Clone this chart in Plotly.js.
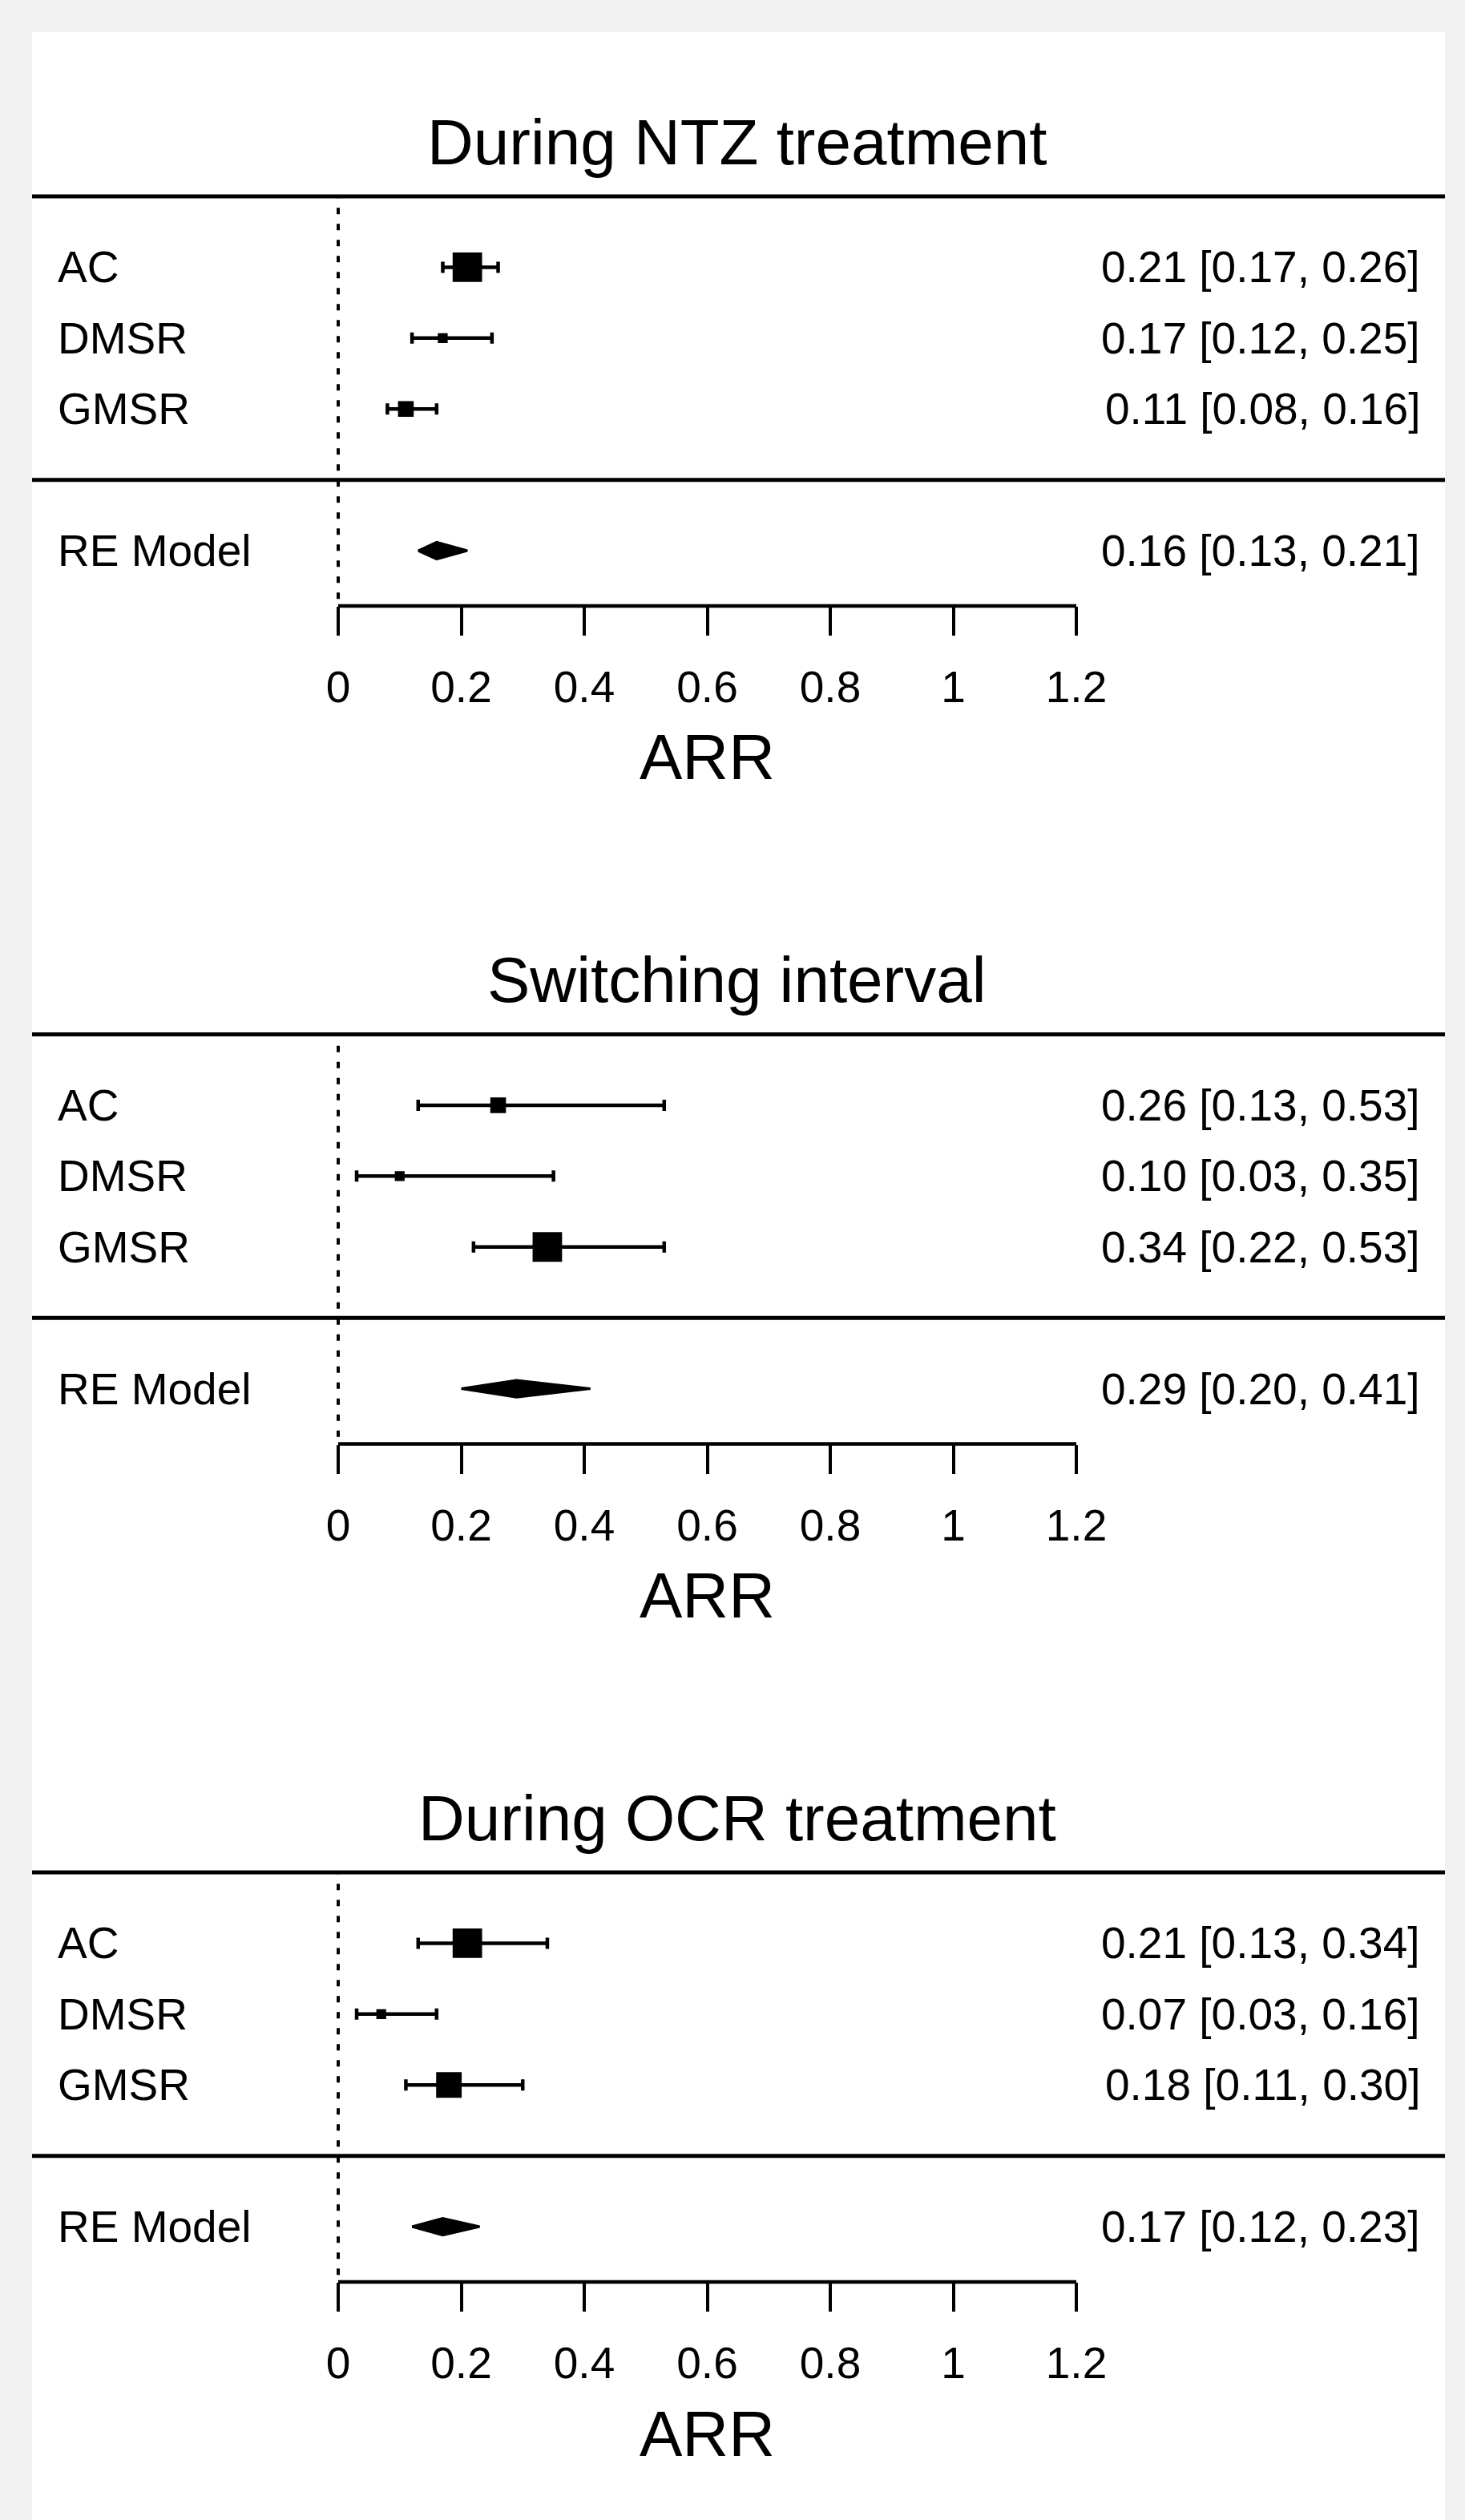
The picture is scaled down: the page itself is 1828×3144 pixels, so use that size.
<!DOCTYPE html>
<html>
<head>
<meta charset="utf-8">
<script src="https://cdn.plot.ly/plotly-3.0.1.min.js"></script>
<style>html,body{margin:0;padding:0;background:#f1f1f1;}#plot{width:1828px;height:3144px;}</style>
</head>
<body>
<div id="plot"></div>
<script>
// ---------- data ----------
const studies = ["AC", "DMSR", "GMSR"];
const panelTitles = ["During NTZ treatment", "Switching interval", "During OCR treatment"];
const summaryLabel = "RE Model";
const xLabel = "ARR";
const tickVals = [0, 0.2, 0.4, 0.6, 0.8, 1, 1.2];
const tickText = ["0", "0.2", "0.4", "0.6", "0.8", "1", "1.2"];

// During NTZ treatment
const ntzEst = [0.21, 0.17, 0.11];
const ntzLo  = [0.17, 0.12, 0.08];
const ntzHi  = [0.26, 0.25, 0.16];
const ntzWeight = [1.5, 0.5, 0.8];
const ntzRE  = [0.16, 0.13, 0.21];   // estimate, lower, upper

// Switching interval
const swEst = [0.26, 0.10, 0.34];
const swLo  = [0.13, 0.03, 0.22];
const swHi  = [0.53, 0.35, 0.53];
const swWeight = [0.8, 0.5, 1.5];
const swRE  = [0.29, 0.20, 0.41];

// During OCR treatment
const ocrEst = [0.21, 0.07, 0.18];
const ocrLo  = [0.13, 0.03, 0.11];
const ocrHi  = [0.34, 0.16, 0.30];
const ocrWeight = [1.5, 0.5, 1.3];
const ocrRE  = [0.17, 0.12, 0.23];

// ---------- layout helpers ----------
const W = 1828, H = 3144;
const FONT = "Liberation Sans, Arial, Helvetica, sans-serif";
const panels = [
  {title: panelTitles[0], est: ntzEst, lo: ntzLo, hi: ntzHi, w: ntzWeight, re: ntzRE},
  {title: panelTitles[1], est: swEst, lo: swLo, hi: swHi, w: swWeight, re: swRE},
  {title: panelTitles[2], est: ocrEst, lo: ocrLo, hi: ocrHi, w: ocrWeight, re: ocrRE}
];
const panelStep = 1045.5;
const rowPx = 88.4;                 // pixels per row unit
const studyRows = [3, 2, 1];
const sepRow = 0, reRow = -1, topRow = 4;
const axisRow = -1.78;
const yMin = -2.1, yMax = 4.4;
const xMin = -0.06, xMax = 1.26;
const xPx0 = 422, xPxPerUnit = 767.5;
const baseSize = 24.5;
const fmt = v => v.toFixed(2);
const px2paperY = p => 1 - p / H;
const px2paperX = p => p / W;

const data = [];
const shapes = [];
const annotations = [];
const layout = {
  width: W, height: H,
  margin: {l: 0, r: 0, t: 0, b: 0},
  paper_bgcolor: "#f1f1f1",
  plot_bgcolor: "rgba(0,0,0,0)",
  showlegend: false,
  font: {family: FONT, color: "#000", size: 55}
};

// white panel background
shapes.push({type: "rect", xref: "paper", yref: "paper", layer: "below",
  x0: px2paperX(40), x1: px2paperX(1803), y0: 0, y1: px2paperY(40),
  fillcolor: "#ffffff", line: {width: 0}});

panels.forEach((p, i) => {
  const sfx = i === 0 ? "" : String(i + 1);
  const xa = "x" + sfx, ya = "y" + sfx;
  const off = panelStep * i;
  const axisPx = 756 + off;
  const zeroPx = axisPx + axisRow * rowPx;   // pixel of row 0
  layout["xaxis" + sfx] = {
    domain: [px2paperX(xPx0 + xMin * xPxPerUnit), px2paperX(xPx0 + xMax * xPxPerUnit)],
    range: [xMin, xMax], anchor: "free", position: px2paperY(axisPx),
    showline: false,
    ticks: "outside", ticklen: 36, tickwidth: 4, tickcolor: "#000",
    tickvals: tickVals, ticktext: tickText,
    tickfont: {family: FONT, size: 55, color: "#000"},
    ticklabelstandoff: 17,
    showgrid: false, zeroline: false, fixedrange: true
  };
  layout["yaxis" + sfx] = {
    domain: [px2paperY(zeroPx - yMin * rowPx), px2paperY(zeroPx - yMax * rowPx)],
    range: [yMin, yMax], anchor: xa,
    visible: false, showgrid: false, zeroline: false, fixedrange: true
  };

  // x axis line spanning the tick range
  shapes.push({type: "line", xref: xa, yref: ya,
    x0: tickVals[0], x1: tickVals[tickVals.length - 1], y0: axisRow, y1: axisRow,
    line: {color: "#000", width: 4.5}});

  // axis title
  annotations.push({xref: xa, yref: "paper", x: (tickVals[0] + tickVals[tickVals.length - 1]) / 2,
    y: px2paperY(945 + off), xanchor: "center", yanchor: "middle", text: xLabel,
    showarrow: false, font: {family: FONT, size: 80, color: "#000"}});

  // reference dotted line at 0
  data.push({type: "scatter", mode: "lines", xaxis: xa, yaxis: ya,
    x: [0, 0], y: [axisRow + 0.1, topRow],
    line: {color: "#000", width: 4, dash: "8px,12px"}, hoverinfo: "skip"});

  // horizontal rules (top and separator)
  [topRow, sepRow].forEach(r => {
    shapes.push({type: "line", xref: "paper", yref: ya,
      x0: px2paperX(40), x1: px2paperX(1803), y0: r, y1: r,
      line: {color: "#000", width: 5}});
  });

  // study estimates with CIs
  data.push({type: "scatter", mode: "markers", xaxis: xa, yaxis: ya,
    x: p.est, y: studyRows,
    marker: {symbol: "square", color: "#000", opacity: 1,
      size: p.w.map(v => v * baseSize), line: {width: 0}},
    error_x: {type: "data", symmetric: false,
      array: p.est.map((e, k) => p.hi[k] - e),
      arrayminus: p.est.map((e, k) => e - p.lo[k]),
      color: "#000", thickness: 4.5, width: 7},
    cliponaxis: false, hoverinfo: "x"});

  // RE model diamond
  const dh = 0.12;
  data.push({type: "scatter", mode: "lines", xaxis: xa, yaxis: ya,
    x: [p.re[1], p.re[0], p.re[2], p.re[0], p.re[1]],
    y: [reRow, reRow + dh, reRow, reRow - dh, reRow],
    fill: "toself", fillcolor: "#000", line: {color: "#000", width: 3},
    hoverinfo: "skip"});

  // labels
  const labels = studies.concat([summaryLabel]);
  const rows = studyRows.concat([reRow]);
  const rights = p.est.map((e, k) => `${fmt(e)} [${fmt(p.lo[k])}, ${fmt(p.hi[k])}]`)
    .concat([`${fmt(p.re[0])} [${fmt(p.re[1])}, ${fmt(p.re[2])}]`]);
  labels.forEach((lab, k) => {
    annotations.push({xref: "paper", yref: ya, x: px2paperX(70), y: rows[k],
      xanchor: "left", yanchor: "middle", text: lab, showarrow: false,
      font: {family: FONT, size: 55, color: "#000"}});
    annotations.push({xref: "paper", yref: ya, x: px2paperX(1774), y: rows[k],
      xanchor: "right", yanchor: "middle", text: rights[k], showarrow: false,
      font: {family: FONT, size: 55, color: "#000"}});
  });

  // panel title
  annotations.push({xref: "paper", yref: "paper", x: px2paperX(920), y: px2paperY(177 + off),
    xanchor: "center", yanchor: "middle", text: p.title, showarrow: false,
    font: {family: FONT, size: 80, color: "#000"}});
});

layout.shapes = shapes;
layout.annotations = annotations;

Plotly.newPlot("plot", data, layout, {staticPlot: true, displayModeBar: false});
</script>
</body>
</html>
